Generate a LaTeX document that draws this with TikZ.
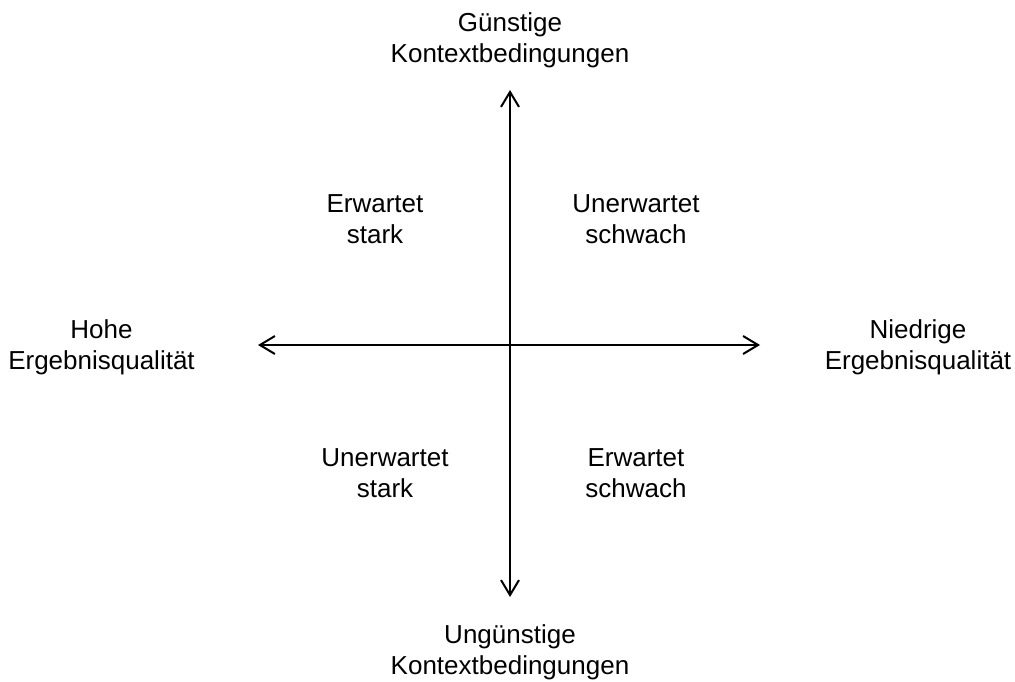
\documentclass[tikz,border=0pt]{standalone}
\usepackage{fontspec}
\setmainfont{Liberation Sans}
\usetikzlibrary{arrows.meta}
\begin{document}
\begin{tikzpicture}[x=1pt,y=-1pt,
  lbl/.style={align=center, inner sep=0pt, anchor=base,
    font=\fontsize{26}{30.8}\selectfont},
  axis/.style={line width=2pt,
    {Straight Barb[length=15pt,width=18pt,line width=2pt]}-{Straight Barb[length=15pt,width=18pt,line width=2pt]}}]
  \useasboundingbox (0,0) rectangle (1015,682);
  % axes
  \coordinate (top) at (510,90);
  \coordinate (bottom) at (510,597);
  \coordinate (left) at (258,345);
  \coordinate (right) at (760,345);
  \draw[axis] (bottom) -- (top);
  \draw[axis] (left) -- (right);
  % axis labels (positions give the baseline of the last line)
  \node[lbl] (tl) at (510,62.5) {Günstige\\Kontextbedingungen};
  \node[lbl] (bl) at (510,674) {Ungünstige\\Kontextbedingungen};
  \node[lbl] (ll) at (101.5,369) {Hohe\\Ergebnisqualität};
  \node[lbl] (rl) at (918,369) {Niedrige\\Ergebnisqualität};
  % quadrant labels
  \node[lbl] (q1) at (375,243) {Erwartet\\stark};
  \node[lbl] (q2) at (636,243) {Unerwartet\\schwach};
  \node[lbl] (q3) at (385,497) {Unerwartet\\stark};
  \node[lbl] (q4) at (636,497) {Erwartet\\schwach};
\end{tikzpicture}
\end{document}
